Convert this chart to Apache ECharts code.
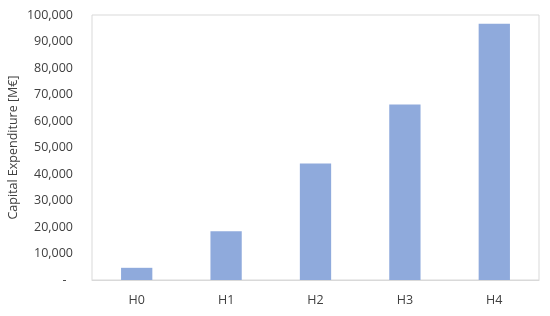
<!DOCTYPE html>
<html><head><meta charset="utf-8">
<script src="https://cdn.jsdelivr.net/npm/echarts@6/dist/echarts.min.js"></script>
<style>html,body{margin:0;padding:0;background:#fff}#c{width:550px;height:316px}</style>
</head><body><div id="c"></div>
<script>
const categories = ['H0', 'H1', 'H2', 'H3', 'H4'];
const capex = [4600, 18400, 44000, 66200, 96700];
const yTicks = [0, 10000, 20000, 30000, 40000, 50000, 60000, 70000, 80000, 90000, 100000];
const yAxisTitle = 'Capital Expenditure [M€]';

const chart = echarts.init(document.getElementById('c'));
chart.setOption({
  animation: false,
  grid: { left: 92, right: 11, top: 15, bottom: 36, show: true, borderColor: '#d9d9d9', borderWidth: 1,
          containLabel: false, outerBoundsMode: 'none' },
  xAxis: {
    type: 'category', data: categories,
    axisLine: { lineStyle: { color: '#d9d9d9' } },
    axisTick: { show: false },
    axisLabel: { color: '#404040', fontFamily: 'Open Sans', fontSize: 12.5, margin: 14 }
  },
  yAxis: {
    type: 'value', min: yTicks[0], max: yTicks[yTicks.length - 1], interval: 10000,
    name: yAxisTitle, nameLocation: 'middle', nameGap: 72, nameRotate: 90, nameMoveOverlap: false,
    nameTextStyle: { color: '#404040', fontFamily: 'Open Sans', fontSize: 12.5 },
    splitLine: { show: false },
    axisLine: { show: false }, axisTick: { show: false },
    axisLabel: {
      color: '#404040', fontFamily: 'Open Sans', fontSize: 12.5, margin: 19,
      formatter: v => v === 0 ? '-  ' : v.toLocaleString('en-US')
    }
  },
  series: [{
    type: 'bar', data: capex, barWidth: '35%',
    itemStyle: { color: '#8FAADC' }
  }]
});
</script></body></html>
